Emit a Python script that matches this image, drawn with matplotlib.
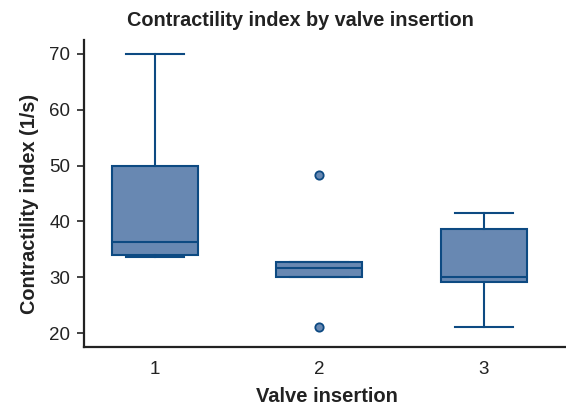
import matplotlib.pyplot as plt

plt.rcParams['font.family'] = ['Liberation Sans', 'DejaVu Sans']

# box statistics (valve insertion 1, 2, 3)
groups = ['1', '2', '3']
lower_whisker = [33.7, 30.0, 21.1]
q1 = [33.9, 30.0, 29.1]
medians = [36.3, 31.6, 30.1]
q3 = [50.0, 32.8, 38.6]
upper_whisker = [69.9, 32.8, 41.5]
outliers = [[], [48.4, 21.1], []]

fill_col = '#6888b2'
edge_col = '#0d4a82'

stats = []
for i in range(len(groups)):
    stats.append({'label': groups[i], 'whislo': lower_whisker[i], 'q1': q1[i],
                  'med': medians[i], 'q3': q3[i], 'whishi': upper_whisker[i],
                  'fliers': outliers[i]})

fig = plt.figure(figsize=(5.66, 4.08), dpi=100)
ax = fig.add_axes([0.1484, 0.1495, 0.8516, 0.7525])

ax.bxp(stats, positions=[1, 2, 3], widths=0.52, patch_artist=True,
       boxprops=dict(facecolor=fill_col, edgecolor=edge_col, linewidth=1.5),
       medianprops=dict(color=edge_col, linewidth=1.5),
       whiskerprops=dict(color=edge_col, linewidth=1.5),
       capprops=dict(color=edge_col, linewidth=1.5),
       capwidths=0.35,
       flierprops=dict(marker='o', markersize=6, markerfacecolor=fill_col,
                       markeredgecolor=edge_col, markeredgewidth=1.3))

ax.set_xlim(0.57, 3.5)
ax.set_ylim(17.5, 72.5)
ax.set_yticks([20, 30, 40, 50, 60, 70])
ax.spines['top'].set_visible(False)
ax.spines['right'].set_visible(False)
ax.spines['left'].set_linewidth(1.6)
ax.spines['bottom'].set_linewidth(1.6)
ax.spines['left'].set_color('#222222')
ax.spines['bottom'].set_color('#222222')
ax.tick_params(axis='both', labelsize=13.5, length=5, width=1.2, color='#222222',
               labelcolor='#222222')
ax.tick_params(axis='y', pad=5)
ax.tick_params(axis='x', length=0, pad=10)

# axis titles and main title placed in figure pixels
fig.text(30 / 566, 1 - 203.5 / 408, 'Contractility index (1/s)', rotation=90,
         ha='center', va='center', fontsize=14.3, fontweight='bold', color='#222222')
fig.text(327 / 566, 1 - 396 / 408, 'Valve insertion', ha='center', va='center',
         fontsize=14.5, fontweight='bold', color='#222222')
fig.text(300 / 566, 1 - 20 / 408, 'Contractility index by valve insertion',
         ha='center', va='center', fontsize=14.3, fontweight='bold', color='#222222')

plt.savefig('out.png', dpi=100)
